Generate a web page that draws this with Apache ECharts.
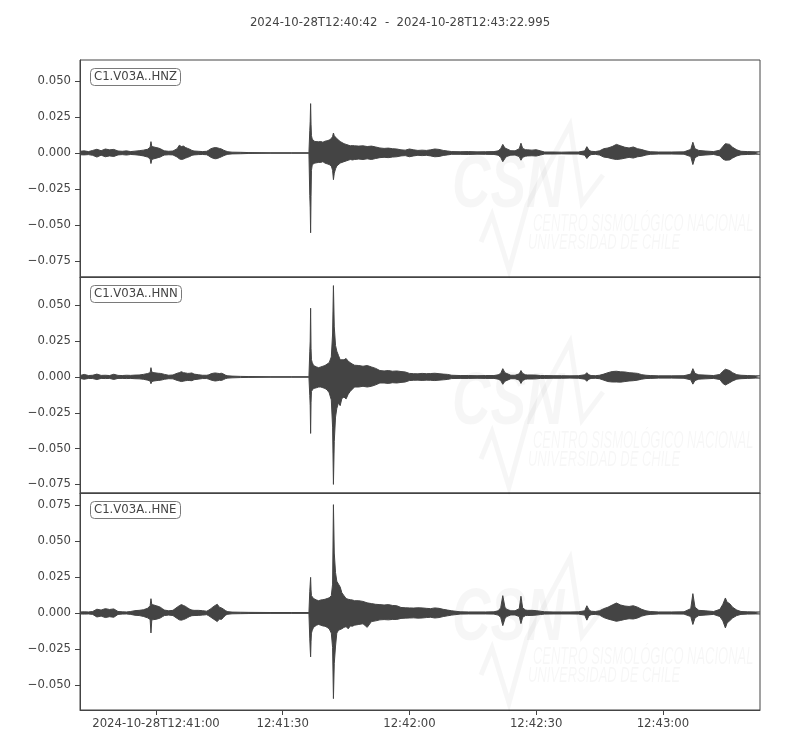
<!DOCTYPE html>
<html><head><meta charset="utf-8">
<script src="https://cdn.jsdelivr.net/npm/echarts@6/dist/echarts.min.js"></script>
<style>html,body{margin:0;padding:0;background:#fff}#c{width:800px;height:750px}</style>
</head><body><div id="c"></div>
<script>
// seconds after 2024-10-28T12:40:42
const times = [
  0,1,2,3,4,5,6,7,8,9,10,11,12,13,14,15,16,
  16.6,16.8,17.0,17.5,18,18.5,19,19.5,20,
  21,22,23,23.5,24,24.5,25,25.5,26,26.5,27,28,29,30,
  30.5,31,31.5,32,32.5,33,33.5,34,34.5,35,
  36,38,40,45,50,54.2,
  54.4,54.5,54.6,54.7,54.8,55.0,55.3,55.6,56,56.5,57,57.5,58,58.5,59,59.5,59.8,60.0,60.2,60.5,60.8,61.2,61.6,62.0,
  62.5,63,63.5,64,64.5,65,66,67,68,69,70,71,72,73,74,75,76,77,78,79,80,81,82,83,84,85,86,87,88,
  90,92,94,96,98,99,
  99.6,100.1,100.6,101,102,103,104,104.4,104.8,105.5,106,107,108,109,
  110,112,114,116,118,119.5,
  120,120.5,121,122,123,124,125,126,127,128,129,130,131,132,133,134,135,
  137,140,143,144.6,145.1,145.6,146.5,148,150,151.5,152.2,152.8,153.2,153.8,154.5,155.5,156.5,158,160,161
];
// envelope values in thousandths (x 1e-3)
const hnzMax = [
  1.2,1.5,1.0,1.8,2.6,1.6,2.8,2.2,2.5,1.4,1.2,1.5,1.0,1.3,1.6,2.0,2.6,
  4.0,7.9,4.5,4.2,3.8,3.5,3.0,2.2,1.5,
  1.2,1.4,3.0,5.4,4.5,4.8,3.8,3.2,2.6,1.8,1.4,1.2,1.0,1.2,
  2.0,3.0,3.5,3.8,3.6,3.2,2.8,2.0,1.4,0.9,
  0.6,0.5,0.3,0.2,0.2,0.2,
  15.5,22,34.3,20,12,9.5,8.5,8,7.5,7.8,8,7.5,8.2,8.5,9,10,11.5,13.9,12,11,10,9,8,7,
  6.5,6,5.5,5,5.2,5,4.8,5,4.5,4.8,4.2,3.5,3.2,3.4,3.0,2.8,2.2,2.0,2.8,2.2,1.8,2.0,1.8,2.2,2.8,2.5,1.8,1.4,1.0,
  0.9,1.0,0.8,0.9,1.0,1.5,
  3.0,6.0,3.5,2.4,1.6,1.5,3.0,6.8,3.2,2.3,2.2,2.0,2.3,1.5,
  0.7,0.7,0.6,0.7,0.7,1.5,
  4.4,2.0,1.2,1.0,1.5,3.0,3.5,4.5,6.0,5.0,4.0,3.5,4.2,3.0,2.4,1.5,0.9,
  0.7,0.7,0.8,2.5,7.5,3.0,1.8,1.4,1.0,2.0,4.5,6.5,7.5,6.0,4.0,2.2,1.2,1.0,0.8,0.8
];
const hnzMin = [
  -1.2,-1.3,-1.1,-1.6,-2.8,-1.5,-2.6,-2.0,-2.4,-1.3,-1.1,-1.4,-1.0,-1.2,-1.5,-2.0,-2.8,
  -4.0,-7.3,-4.5,-4.0,-3.6,-3.2,-2.8,-2.0,-1.4,
  -1.2,-1.3,-2.8,-4.0,-4.5,-4.2,-3.5,-3.0,-2.4,-1.6,-1.3,-1.1,-1.0,-1.2,
  -2.0,-3.0,-3.6,-4.0,-3.8,-3.2,-2.6,-1.9,-1.3,-0.9,
  -0.6,-0.5,-0.3,-0.2,-0.2,-0.2,
  -29.6,-38,-55.4,-30,-12,-8,-7,-7,-7.7,-6.5,-6.5,-6,-7,-7.5,-8,-9,-12,-18.5,-14,-11,-9,-8,-7,-6.5,
  -6,-5.5,-5,-4.5,-4.8,-4.5,-4.2,-4.5,-4.0,-4.5,-3.8,-3.2,-3.0,-3.2,-2.8,-2.6,-2.0,-1.8,-2.6,-2.0,-1.6,-1.8,-1.6,-2.0,-2.6,-2.4,-1.7,-1.3,-0.9,
  -0.9,-1.0,-0.8,-0.9,-1.0,-1.5,
  -3.0,-6.0,-3.8,-2.4,-1.5,-1.4,-2.5,-5.0,-3.0,-2.2,-2.0,-1.9,-2.1,-1.4,
  -0.7,-0.7,-0.6,-0.7,-0.7,-1.5,
  -3.8,-2.0,-1.1,-0.9,-1.4,-2.8,-3.2,-4.0,-4.5,-4.2,-3.6,-3.0,-3.5,-2.6,-2.2,-1.4,-0.9,
  -0.7,-0.7,-0.8,-2.5,-8.0,-3.2,-1.8,-1.4,-1.0,-2.0,-4.2,-5.0,-5.4,-4.8,-3.5,-2.0,-1.2,-1.0,-0.8,-0.8
];
const hnnMax = [
  1.0,1.8,1.0,1.2,2.0,1.1,1.2,1.0,1.9,1.1,1.0,1.2,1.1,1.3,1.4,1.8,2.4,
  3.0,6.5,3.4,3.0,2.8,2.6,2.5,2.2,1.8,
  1.2,1.4,2.6,3.0,3.7,3.0,2.8,2.5,2.6,2.8,2.0,1.6,1.2,1.2,
  1.5,2.2,2.6,2.8,2.6,2.4,2.6,2.0,1.2,0.8,
  0.6,0.4,0.3,0.2,0.2,0.2,
  17.6,25,48,20,12,10,8,7,7,6.5,7,7.5,8,9,10,14,30,63.8,35,22,18,15,12,11,
  12,12.9,11,10,9,8.2,8,7.5,8,7,6,4.5,4.2,4.5,4,4.2,3.8,3.5,2.5,2.3,2.2,2.5,2.3,2.4,2.6,2.3,2.0,1.8,1.2,
  1.0,1.0,0.9,1.0,1.0,1.5,
  2.5,5.8,3.0,2.0,1.2,1.2,2.2,4.5,2.5,1.5,1.4,1.4,1.3,1.0,
  1.0,0.9,0.9,0.8,0.9,1.5,
  3.0,1.5,1.0,0.9,1.2,2.0,3.0,3.8,4.0,3.6,3.5,3.0,2.8,2.5,1.6,1.2,1.0,
  0.8,0.8,0.9,2.0,5.8,2.5,1.5,1.3,1.0,1.8,4.0,5.4,5.0,4.5,3.0,1.6,1.2,1.0,0.8,0.8
];
const hnnMin = [
  -1.0,-1.6,-1.0,-1.1,-1.8,-1.0,-1.1,-1.0,-1.7,-1.0,-1.0,-1.1,-1.0,-1.2,-1.3,-1.6,-2.2,
  -2.8,-4.7,-3.2,-2.8,-2.6,-2.4,-2.3,-2.0,-1.6,
  -1.2,-1.3,-2.4,-2.8,-3.2,-2.9,-2.6,-2.4,-2.5,-2.6,-1.9,-1.5,-1.1,-1.1,
  -1.5,-2.1,-2.5,-2.8,-2.6,-2.3,-2.4,-1.8,-1.1,-0.8,
  -0.6,-0.4,-0.3,-0.2,-0.2,-0.2,
  -13,-20,-39.4,-18,-10,-9,-8,-7,-7.5,-7,-7,-7.5,-8,-9,-11,-16,-35,-75,-45,-28,-22,-18,-20,-15,
  -14,-15.3,-12,-10,-8.5,-7,-7,-6.5,-7,-6.5,-5.5,-4.2,-4.2,-4.5,-4,-4.2,-3.8,-3.5,-2.5,-2.3,-2.2,-2.4,-2.2,-2.3,-2.5,-2.2,-2.0,-1.7,-1.1,
  -1.0,-1.0,-0.9,-1.0,-1.0,-1.5,
  -2.5,-5.1,-3.0,-2.0,-1.2,-1.2,-2.2,-4.5,-2.5,-1.5,-1.4,-1.4,-1.3,-1.0,
  -1.0,-0.9,-0.9,-0.8,-0.9,-1.5,
  -3.0,-1.5,-1.0,-0.9,-1.2,-2.2,-3.2,-3.5,-3.5,-3.6,-3.2,-2.8,-2.6,-2.2,-1.5,-1.1,-1.0,
  -0.8,-0.8,-0.9,-2.0,-5.0,-2.5,-1.5,-1.3,-1.0,-1.8,-4.5,-5.6,-5.2,-4.0,-2.8,-1.5,-1.2,-1.0,-0.8,-0.8
];
const hneMax = [
  0.7,0.8,0.7,1.0,2.6,2.0,3.0,2.4,2.8,1.0,0.8,0.7,1.0,1.6,1.8,2.2,3.2,
  5.0,9.9,5.8,5.5,5.0,4.6,4.0,3.0,2.0,
  1.5,1.8,4.0,5.0,5.8,5.2,4.5,3.5,2.6,2.0,1.8,1.8,1.6,1.2,
  2.0,3.0,4.2,5.2,6.0,4.0,3.5,2.6,1.5,0.9,
  0.6,0.5,0.4,0.3,0.3,0.3,
  15,20,24.7,16,12,11,10,9.5,9,8.5,9,9.2,9.5,10,10.5,12,20,75.2,41.6,28,22,20,18,14,
  12,10,9.5,9.2,9,8.5,8.5,8,7,6.5,6,5.8,5.5,5.8,5.2,5,3.8,3.6,3.5,3.4,3.6,3.5,3.2,3.0,3.5,3.2,2.5,2.0,1.5,
  0.8,0.7,0.7,0.7,0.8,1.5,
  3.5,12.0,4.0,2.5,1.5,1.5,3.0,11.6,3.5,2.0,1.8,1.8,1.6,1.2,
  0.8,0.7,0.7,0.7,0.8,1.5,
  5.0,2.2,1.2,1.0,1.5,3.0,4.0,5.5,6.9,5.5,4.8,4.5,5.0,4.0,2.5,1.5,1.0,
  0.7,0.7,0.8,3.0,13.4,4.0,1.8,1.5,1.0,2.5,6.0,10.4,7.5,6.5,4.0,2.0,1.0,0.8,0.7,0.7
];
const hneMin = [
  -0.7,-0.8,-0.7,-1.0,-2.8,-2.2,-3.2,-2.6,-3.0,-1.0,-0.8,-0.7,-1.0,-1.6,-1.8,-2.4,-3.4,
  -4.5,-13.9,-4.8,-4.6,-4.4,-4.0,-3.5,-2.6,-1.8,
  -1.5,-1.8,-3.8,-4.8,-5.0,-4.6,-4.0,-3.2,-2.4,-1.9,-1.8,-1.7,-1.5,-1.2,
  -2.0,-3.0,-4.0,-5.0,-6.0,-4.2,-4.5,-3.0,-1.4,-0.9,
  -0.6,-0.5,-0.4,-0.3,-0.3,-0.3,
  -18,-25,-30.5,-20,-14,-12,-10,-9,-8.5,-8,-8.5,-9,-9.2,-10,-11,-14,-24,-59.5,-35,-23,-14,-12,-11.6,-11,
  -10,-9.5,-11,-9,-9.2,-8.5,-8,-7.5,-10,-6,-5.5,-4.8,-4.6,-4.8,-4.5,-4.5,-3.8,-3.6,-3.5,-3.4,-3.6,-3.5,-3.2,-3.0,-3.5,-3.2,-2.5,-2.0,-1.5,
  -0.8,-0.7,-0.7,-0.7,-0.8,-1.5,
  -3.0,-8.8,-4.0,-2.5,-1.4,-1.4,-2.5,-7.4,-3.0,-1.8,-1.8,-1.7,-1.5,-1.1,
  -0.8,-0.7,-0.7,-0.7,-0.8,-1.5,
  -5.0,-2.0,-1.2,-1.0,-1.5,-3.2,-4.2,-5.0,-5.8,-5.2,-4.5,-4.0,-4.2,-3.5,-2.2,-1.4,-1.0,
  -0.7,-0.7,-0.8,-2.5,-8.0,-3.5,-1.8,-1.5,-1.0,-2.5,-5.5,-10.4,-7.0,-5.5,-3.5,-1.8,-1.0,-0.8,-0.7,-0.7
];
const channels = ['C1.V03A..HNZ', 'C1.V03A..HNN', 'C1.V03A..HNE'];
const titleText = '2024-10-28T12:40:42  -  2024-10-28T12:43:22.995';
const xTickValues = [18, 48, 78, 108, 138];
const xTickLabels = ['2024-10-28T12:41:00', '12:41:30', '12:42:00', '12:42:30', '12:43:00'];
const yTicksHNZ = [-0.075, -0.05, -0.025, 0, 0.025, 0.05];
const yTicksHNN = [-0.075, -0.05, -0.025, 0, 0.025, 0.05];
const yTicksHNE = [-0.05, -0.025, 0, 0.025, 0.05, 0.075];
const timeEnd = 160.995;

const traces = [
  {max: hnzMax, min: hnzMin, ticks: yTicksHNZ, lo: -0.0861, hi: 0.0646},
  {max: hnnMax, min: hnnMin, ticks: yTicksHNN, lo: -0.0810, hi: 0.0698},
  {max: hneMax, min: hneMin, ticks: yTicksHNE, lo: -0.0674, hi: 0.0833}
];
const panelTops = [60, 277, 493];
const panelHeights = [217, 216, 217];
const INK = '#444444';
const FONT = 'DejaVu Sans';

const chart = echarts.init(document.getElementById('c'), null, {renderer: 'canvas'});
const grids = [], xAxes = [], yAxes = [], series = [], titles = [], graphics = [];

titles.push({text: titleText, left: 'center', top: 12,
  textStyle: {fontFamily: FONT, fontSize: 11.7, fontWeight: 'normal', color: INK}});

const fmtY = v => (v < -1e-9 ? '\u2212' : '') + Math.abs(v).toFixed(3);

traces.forEach((tr, i) => {
  grids.push({left: 80, right: 40, top: panelTops[i], height: panelHeights[i],
    show: true, borderColor: INK, borderWidth: 1, backgroundColor: 'transparent'});
  const last = i === traces.length - 1;
  xAxes.push({type: 'value', gridIndex: i, min: 0, max: timeEnd, position: 'bottom',
    axisLine: {show: true, onZero: false, lineStyle: {color: INK, width: 1}},
    splitLine: {show: false},
    axisTick: {show: last, inside: false, length: 5, lineStyle: {color: INK}, customValues: xTickValues},
    axisLabel: {show: last, customValues: xTickValues, margin: 8, color: INK,
      fontFamily: FONT, fontSize: 11.7,
      formatter: v => { const k = xTickValues.indexOf(v); return k >= 0 ? xTickLabels[k] : ''; }}
  });
  yAxes.push({type: 'value', gridIndex: i, min: tr.lo, max: tr.hi, position: 'left',
    axisLine: {show: true, onZero: false, lineStyle: {color: INK, width: 1}},
    splitLine: {show: false},
    axisTick: {show: true, length: 5, lineStyle: {color: INK}, customValues: tr.ticks},
    axisLabel: {customValues: tr.ticks, margin: 9, color: INK, fontFamily: FONT, fontSize: 11.7,
      formatter: fmtY}
  });
  const up = times.map((t, k) => [t, tr.max[k] / 1000]);
  const dn = times.map((t, k) => [t, tr.min[k] / 1000]);
  [up, dn].forEach(d => series.push({type: 'line', xAxisIndex: i, yAxisIndex: i, data: d,
    symbol: 'none', silent: true, animation: false, z: 3,
    lineStyle: {color: INK, width: 1}, areaStyle: {color: INK, opacity: 1}}));
  titles.push({text: channels[i], left: 90, top: panelTops[i] + 8,
    padding: [3, 4], borderColor: '#7a7a7a', borderWidth: 1, borderRadius: 4,
    backgroundColor: '#ffffff',
    textStyle: {fontFamily: FONT, fontSize: 11.7, fontWeight: 'normal', color: INK}});
});

// faint CSN watermark in each panel
const wm = 'rgba(0,0,0,0.035)';
panelTops.forEach((top, i) => {
  const oy = top - 60;
  graphics.push({type: 'text', z: 1, silent: true, x: 452, y: 150 + oy, scaleX: 0.72,
    style: {text: 'CSN', fill: wm, font: 'italic bold 74px "Liberation Sans"'}});
  graphics.push({type: 'polyline', z: 1, silent: true,
    shape: {points: [[481, 242 + oy], [492, 215 + oy], [509, 270 + oy], [527, 205 + oy],
                     [570, 125 + oy], [582, 203 + oy], [603, 175 + oy]]},
    style: {stroke: wm, lineWidth: 5, fill: null}});
  graphics.push({type: 'text', z: 1, silent: true, x: 533, y: 212 + oy, scaleX: 0.54,
    style: {text: 'CENTRO SISMOLÓGICO NACIONAL', fill: wm, font: 'italic 24px "Liberation Sans"'}});
  graphics.push({type: 'text', z: 1, silent: true, x: 528, y: 232 + oy, scaleX: 0.59,
    style: {text: 'UNIVERSIDAD DE CHILE', fill: wm, font: 'italic 22px "Liberation Sans"'}});
});

const lens = [hnzMax, hnzMin, hnnMax, hnnMin, hneMax, hneMin].map(a => a.length);
if (lens.some(l => l !== times.length)) {
  graphics.push({type: 'text', x: 10, y: 730, style: {text: 'LEN ' + times.length + ' ' + lens.join(','), fill: 'red', font: '12px sans-serif'}});
}

chart.setOption({
  animation: false,
  backgroundColor: '#ffffff',
  title: titles,
  grid: grids,
  xAxis: xAxes,
  yAxis: yAxes,
  series: series,
  graphic: graphics
});
</script>
</body></html>
